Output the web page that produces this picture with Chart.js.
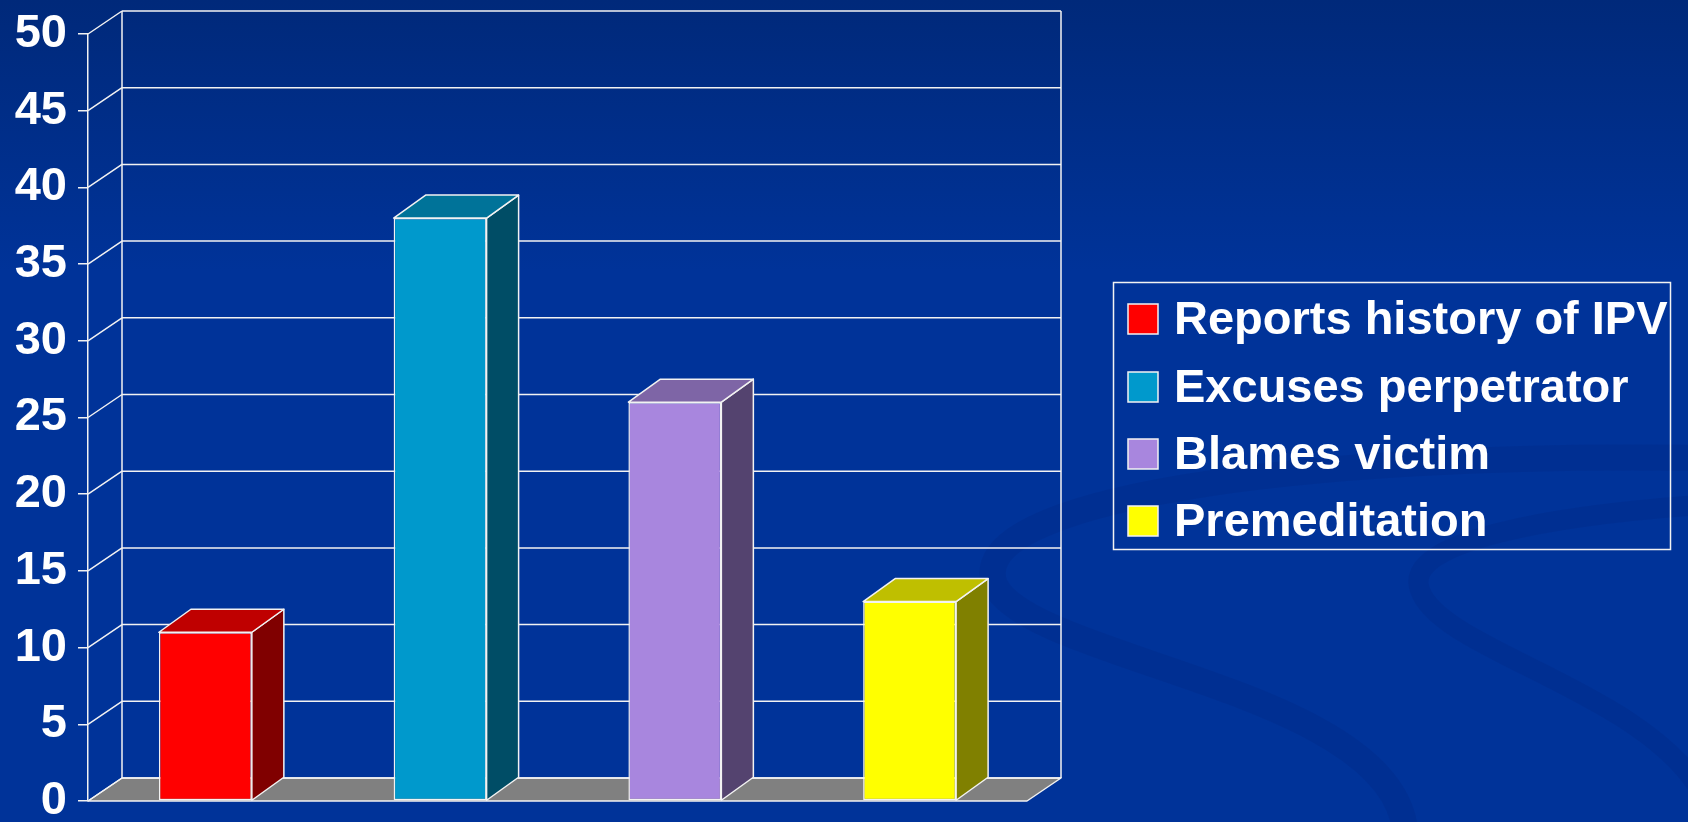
<!DOCTYPE html>
<html>
<head>
<meta charset="utf-8">
<script src="https://cdn.jsdelivr.net/npm/chart.js@4.4.1/dist/chart.umd.min.js"></script>
<style>
html,body{margin:0;padding:0;background:#003399;overflow:hidden}
canvas{display:block}
</style>
</head>
<body>
<canvas id="c" width="1688" height="822"></canvas>
<script>
// ---- data ----
const categories = ['Reports history of IPV', 'Excuses perpetrator', 'Blames victim', 'Premeditation'];
const values = [11, 38, 26, 13];
const yTickValues = [0, 5, 10, 15, 20, 25, 30, 35, 40, 45, 50];

// ---- styles ----
const frontColors = ['#FF0000', '#0099CC', '#A886DE', '#FFFF00'];
const topColors   = ['#BF0000', '#007399', '#7E65A6', '#BFBF00'];
const sideColors  = ['#800000', '#004D66', '#54436F', '#808000'];
const FONT = '"Liberation Sans", Arial, sans-serif';
const LINE = '#F2F2F2';
const WALL_DX = 34, WALL_DY = 23;   // depth of walls
const BAR_DX = 32, BAR_DY = 23;     // depth of bars

const backgroundPlugin = {
  id: 'bg',
  beforeDraw(chart) {
    const {ctx, width, height} = chart;
    ctx.save();
    const g = ctx.createLinearGradient(0, 0, 0, height);
    g.addColorStop(0, '#00297A');
    g.addColorStop(0.33, '#003399');
    g.addColorStop(1, '#003399');
    ctx.fillStyle = g;
    ctx.fillRect(0, 0, width, height);
    // faint decorative swoosh
    ctx.strokeStyle = 'rgba(0,32,115,0.16)';
    ctx.lineCap = 'round';
    ctx.lineWidth = 26;
    ctx.beginPath();
    ctx.moveTo(1700, 458);
    ctx.bezierCurveTo(1300, 452, 960, 500, 995, 585);
    ctx.bezierCurveTo(1030, 660, 1390, 690, 1405, 830);
    ctx.stroke();
    ctx.lineWidth = 20;
    ctx.beginPath();
    ctx.moveTo(1700, 505);
    ctx.bezierCurveTo(1560, 515, 1400, 540, 1420, 590);
    ctx.bezierCurveTo(1440, 650, 1640, 690, 1700, 790);
    ctx.stroke();
    ctx.restore();
  }
};

const threeDPlugin = {
  id: 'threeD',
  beforeDatasetsDraw(chart) {
    const {ctx, chartArea: a, scales: {y}} = chart;
    const L = a.left, R = a.right, T = a.top, B = a.bottom;
    ctx.save();
    ctx.lineWidth = 1.5;
    ctx.strokeStyle = LINE;
    ctx.lineJoin = 'round';
    // floor
    ctx.fillStyle = '#808080';
    ctx.beginPath();
    ctx.moveTo(L, B);
    ctx.lineTo(R, B);
    ctx.lineTo(R + WALL_DX, B - WALL_DY);
    ctx.lineTo(L + WALL_DX, B - WALL_DY);
    ctx.closePath();
    ctx.fill();
    ctx.stroke();
    // grid lines on back wall and side wall
    y.ticks.forEach(t => {
      const py = y.getPixelForValue(t.value);
      ctx.beginPath();
      ctx.moveTo(L + WALL_DX, py - WALL_DY);
      ctx.lineTo(R + WALL_DX, py - WALL_DY);
      ctx.moveTo(L, py);
      ctx.lineTo(L + WALL_DX, py - WALL_DY);
      ctx.stroke();
    });
    // back wall verticals
    ctx.beginPath();
    ctx.moveTo(L + WALL_DX, T - WALL_DY);
    ctx.lineTo(L + WALL_DX, B - WALL_DY);
    ctx.moveTo(R + WALL_DX, T - WALL_DY);
    ctx.lineTo(R + WALL_DX, B - WALL_DY);
    ctx.stroke();
    ctx.restore();
  },
  afterDatasetsDraw(chart) {
    const {ctx} = chart;
    const meta = chart.getDatasetMeta(0);
    ctx.save();
    ctx.lineWidth = 1.5;
    ctx.strokeStyle = LINE;
    ctx.lineJoin = 'round';
    meta.data.forEach((bar, i) => {
      const p = bar.getProps(['x', 'y', 'base', 'width'], true);
      const l = p.x - p.width / 2, r = p.x + p.width / 2;
      // side face
      ctx.fillStyle = sideColors[i];
      ctx.beginPath();
      ctx.moveTo(r, p.y);
      ctx.lineTo(r + BAR_DX, p.y - BAR_DY);
      ctx.lineTo(r + BAR_DX, p.base - BAR_DY);
      ctx.lineTo(r, p.base);
      ctx.closePath();
      ctx.fill();
      ctx.stroke();
      // top face
      ctx.fillStyle = topColors[i];
      ctx.beginPath();
      ctx.moveTo(l, p.y);
      ctx.lineTo(r, p.y);
      ctx.lineTo(r + BAR_DX, p.y - BAR_DY);
      ctx.lineTo(l + BAR_DX, p.y - BAR_DY);
      ctx.closePath();
      ctx.fill();
      ctx.stroke();
    });
    ctx.restore();
  }
};

const legendPlugin = {
  id: 'boxLegend',
  afterDraw(chart) {
    const {ctx} = chart;
    const box = {x: 1113.5, y: 282.5, w: 557, h: 267};
    const rowY = [319, 387, 454, 521];
    ctx.save();
    ctx.strokeStyle = LINE;
    ctx.lineWidth = 1.5;
    ctx.strokeRect(box.x, box.y, box.w, box.h);
    ctx.font = 'bold 47px ' + FONT;
    ctx.textBaseline = 'middle';
    ctx.textAlign = 'left';
    chart.data.labels.forEach((lab, i) => {
      const cy = rowY[i];
      ctx.fillStyle = frontColors[i];
      ctx.fillRect(1128, cy - 15, 30, 30);
      ctx.strokeRect(1128, cy - 15, 30, 30);
      ctx.fillStyle = '#FFFFFF';
      ctx.fillText(lab, 1174, cy + 2);
    });
    ctx.restore();
  }
};

new Chart(document.getElementById('c'), {
  type: 'bar',
  data: {
    labels: categories,
    datasets: [{
      data: values,
      backgroundColor: frontColors,
      borderColor: LINE,
      borderWidth: 1.5,
      borderSkipped: false,
      categoryPercentage: 1,
      barPercentage: 0.396
    }]
  },
  options: {
    responsive: false,
    devicePixelRatio: 1,
    animation: false,
    events: [],
    layout: {padding: {left: 0, top: 34, right: 661, bottom: 21}},
    plugins: {legend: {display: false}, tooltip: {enabled: false}},
    scales: {
      x: {display: false},
      y: {
        min: 0, max: 50,
        afterBuildTicks(s) { s.ticks = yTickValues.map(v => ({value: v})); },
        afterFit(s) { s.width = 88; s.paddingTop = 0; s.paddingBottom = 0; },
        ticks: {
          color: '#FFFFFF',
          padding: 11,
          font: {family: FONT, weight: 'bold', size: 47, lineHeight: 1}
        },
        grid: {drawOnChartArea: false, drawTicks: true, tickLength: 10, color: LINE, lineWidth: 1.5},
        border: {display: true, color: LINE, width: 1.5}
      }
    }
  },
  plugins: [backgroundPlugin, threeDPlugin, legendPlugin]
});
</script>
</body>
</html>
